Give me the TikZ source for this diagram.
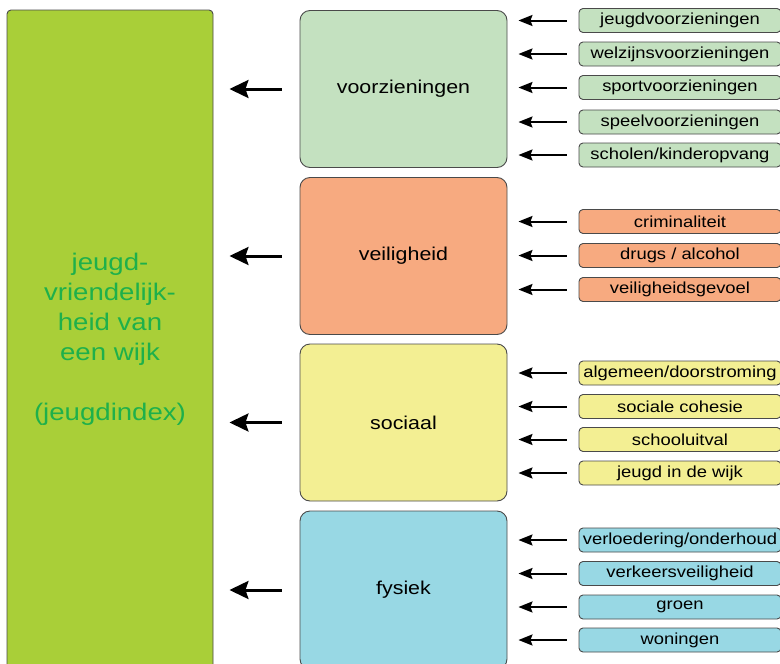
\documentclass[tikz,border=0pt]{standalone}
\usepackage{fontspec}
\setmainfont{Liberation Sans}[FakeStretch=1.15]
\usetikzlibrary{arrows.meta}
\definecolor{mainfill}{HTML}{A9CF38}
\definecolor{maintext}{HTML}{1EB04B}
\definecolor{cvoor}{HTML}{C4E1C0}
\definecolor{cveil}{HTML}{F7AA80}
\definecolor{csoc}{HTML}{F3EF93}
\definecolor{cfys}{HTML}{98D8E4}
\definecolor{bord}{HTML}{4A4A4A}
\tikzset{
  mainbox/.style={draw=bord, line width=0.9pt, fill=mainfill, rounded corners=4pt,
    minimum width=206pt, minimum height=659pt, inner sep=0pt, align=center,
    text=maintext, font=\fontsize{24}{30}\selectfont},
  catbox/.style={draw=bord, line width=0.9pt, rounded corners=10pt,
    minimum width=207pt, minimum height=157pt, inner sep=0pt,
    font=\fontsize{18.6}{22}\selectfont},
  subbox/.style={draw=bord, line width=0.9pt, rounded corners=4pt,
    minimum width=202pt, minimum height=24pt, inner sep=0pt,
    font=\fontsize{16}{19}\selectfont},
  bigarr/.style={line width=3pt, -{Stealth[length=19pt,width=18pt,inset=3pt]},
    shorten <=18pt, shorten >=16pt},
  smallarr/.style={line width=2pt, -{Stealth[length=14pt,width=11pt,inset=2pt]},
    shorten <=12pt, shorten >=11pt},
}
\begin{document}
\begin{tikzpicture}[x=1pt,y=-1pt]
\clip (0,0) rectangle (780,664);
\fill[white] (0,0) rectangle (780,664);
\node[mainbox] (main) at (110,339.5) {jeugd-\\vriendelijk-\\heid van\\een wijk\\[30pt](jeugdindex)};

\node[catbox, fill=cvoor] (voor) at (403.5,89) {voorzieningen};
\node[catbox, fill=cveil] (veil) at (403.5,256) {veiligheid};
\node[catbox, fill=csoc] (soc) at (403.5,422.5) {sociaal};
\node[catbox, fill=cfys, minimum height=158pt] (fys) at (403.5,590) {fysiek};

\foreach \c in {voor,veil,soc,fys}
  \draw[bigarr] (\c.west) -- (\c.west -| main.east);

% voorzieningen
\node[subbox, fill=cvoor] (v1) at (680,20.5) {jeugdvoorzieningen};
\node[subbox, fill=cvoor] (v2) at (680,54) {welzijnsvoorzieningen};
\node[subbox, fill=cvoor] (v3) at (680,87.5) {sportvoorzieningen};
\node[subbox, fill=cvoor] (v4) at (680,122) {speelvoorzieningen};
\node[subbox, fill=cvoor] (v5) at (680,155) {scholen/kinderopvang};
\foreach \s in {v1,v2,v3,v4,v5}
  \draw[smallarr] (\s.west) -- (\s.west -| voor.east);

% veiligheid
\node[subbox, fill=cveil] (w1) at (680,221.5) {criminaliteit};
\node[subbox, fill=cveil] (w2) at (680,255.5) {drugs / alcohol};
\node[subbox, fill=cveil] (w3) at (680,289.5) {veiligheidsgevoel};
\foreach \s in {w1,w2,w3}
  \draw[smallarr] (\s.west) -- (\s.west -| veil.east);

% sociaal
\node[subbox, fill=csoc] (s1) at (680,373) {algemeen/doorstroming};
\node[subbox, fill=csoc] (s2) at (680,406.5) {sociale cohesie};
\node[subbox, fill=csoc] (s3) at (680,439.5) {schooluitval};
\node[subbox, fill=csoc] (s4) at (680,473) {jeugd in de wijk};
\foreach \s in {s1,s2,s3,s4}
  \draw[smallarr] (\s.west) -- (\s.west -| soc.east);

% fysiek
\node[subbox, fill=cfys] (f1) at (680,540) {verloedering/onderhoud};
\node[subbox, fill=cfys] (f2) at (680,573.5) {verkeersveiligheid};
\node[subbox, fill=cfys] (f3) at (680,607) {groen};
\node[subbox, fill=cfys] (f4) at (680,640) {woningen};
\foreach \s in {f1,f2,f3,f4}
  \draw[smallarr] (\s.west) -- (\s.west -| fys.east);
\end{tikzpicture}
\end{document}
